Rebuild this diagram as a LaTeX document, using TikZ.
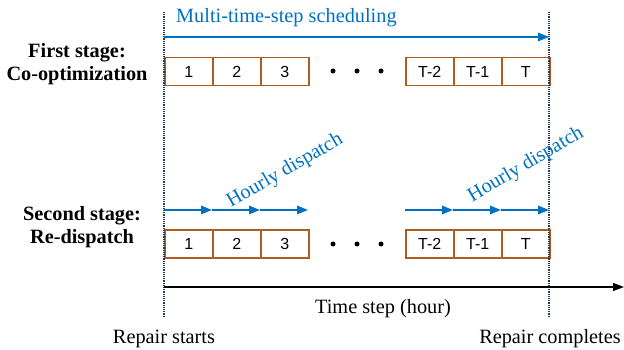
\documentclass[tikz,border=0pt]{standalone}
\usepackage{fontspec}
\setmainfont{Liberation Serif}
\newfontfamily\boxfont{Liberation Sans}
\usetikzlibrary{arrows.meta}
\definecolor{myblue}{RGB}{0,112,192}
\definecolor{mybrown}{RGB}{176,92,30}
\definecolor{mynavy}{RGB}{31,56,100}
\begin{document}
\begin{tikzpicture}[x=1pt,y=-1pt,
  slot/.style={draw=mybrown, line width=1.5pt, minimum width=48pt, minimum height=28pt,
    inner sep=0pt, anchor=north west, font=\boxfont\fontsize{16}{18}\selectfont},
  bluearrow/.style={draw=myblue, line width=1.6pt, -{Triangle[length=11pt,width=8.5pt]}},
  marker/.style={draw=mynavy, line width=1.2pt, densely dotted},
  serif/.style={font=\fontsize{20.3}{23}\selectfont},
  stagelabel/.style={align=center, font=\bfseries\fontsize{20.3}{23}\selectfont},
  blueText/.style={text=myblue, font=\fontsize{20.3}{23}\selectfont},
  dotmark/.style={circle, fill=black, inner sep=0pt, minimum size=5pt}]
\useasboundingbox (0,0) rectangle (624,350);

% boxes, first stage
\node[slot] (a1) at (164,57) {1};
\node[slot] (a2) at (212,57) {2};
\node[slot] (a3) at (260,57) {3};
\node[slot] (a4) at (405,57) {T-2};
\node[slot] (a5) at (453,57) {T-1};
\node[slot] (a6) at (501,57) {T};
% boxes, second stage
\node[slot] (b1) at (164,229) {1};
\node[slot] (b2) at (212,229) {2};
\node[slot] (b3) at (260,229) {3};
\node[slot] (b4) at (405,229) {T-2};
\node[slot] (b5) at (453,229) {T-1};
\node[slot] (b6) at (501,229) {T};

% dots
\foreach \x/\n in {333/1,357/2,381/3}{
  \node[dotmark] (da\n) at (\x,71) {};
  \node[dotmark] (db\n) at (\x,244) {};
}

% dotted markers
\coordinate (s1) at (164,12);
\coordinate (s2) at (164,317);
\coordinate (e1) at (549,12);
\coordinate (e2) at (549,317);
\draw[marker] (s1) -- (s2);
\draw[marker] (e1) -- (e2);

% top arrow
\coordinate (t0) at (164,37);
\coordinate (t1) at (549,37);
\draw[bluearrow] (t0) -- (t1);
\node[blueText, anchor=west, inner sep=0pt] (multi) at (176,18) {Multi-time-step scheduling};

% hourly arrows
\coordinate (p0) at (164,210);
\coordinate (p1) at (212,210);
\coordinate (p2) at (260,210);
\coordinate (p3) at (308,210);
\coordinate (q0) at (405,210);
\coordinate (q1) at (453,210);
\coordinate (q2) at (501,210);
\coordinate (q3) at (549,210);
\draw[bluearrow] (p0) -- (p1);
\draw[bluearrow] (p1) -- (p2);
\draw[bluearrow] (p2) -- (p3);
\draw[bluearrow] (q0) -- (q1);
\draw[bluearrow] (q1) -- (q2);
\draw[bluearrow] (q2) -- (q3);
\node[blueText, rotate=30] (h1) at (285,171) {Hourly dispatch};
\node[blueText, rotate=30.5] (h2) at (526,165) {Hourly dispatch};

% stage labels
\node[stagelabel] (st1) at (77,64) {First stage:\\Co-optimization};
\node[stagelabel] (st2) at (82,227) {Second stage:\\Re-dispatch};

% time axis
\coordinate (ax0) at (164,287);
\coordinate (ax1) at (624,287);
\draw[line width=1.2pt, -{Triangle[length=11pt,width=8pt]}] (ax0) -- (ax1);
\node[serif] (ts) at (383,309) {Time step (hour)};
\node[serif] (rs) at (164,339) {Repair starts};
\node[serif] (rc) at (550,339) {Repair completes};
\end{tikzpicture}
\end{document}
